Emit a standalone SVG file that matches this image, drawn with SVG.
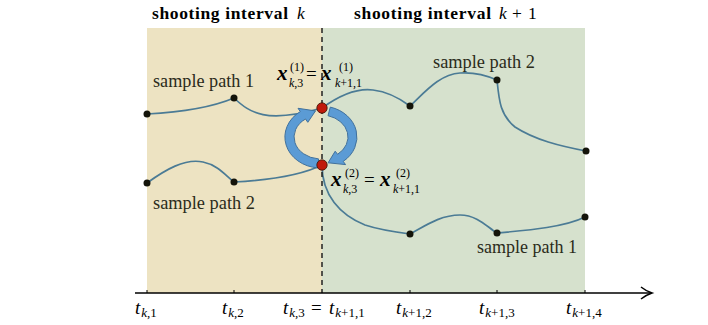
<svg xmlns="http://www.w3.org/2000/svg" width="708" height="325" viewBox="0 0 708 325">
<style>
.bg1{fill:#ede3c2}
.bg2{fill:#d6e1cd}
.path{fill:none;stroke:#4b7b95;stroke-width:1.7}
.dot{fill:#14140a}
.red{fill:#c0190c;stroke:#3a1505;stroke-width:0.8}
.arr{fill:#5b9bd5;stroke:#41719c;stroke-width:1}
text{font-family:"Liberation Serif","Times New Roman","DejaVu Serif",serif}
.hd{font-weight:bold;font-size:17.5px;fill:#000}
.lbl{font-size:18px;fill:#2b2b1a}
.m{font-size:19px;fill:#000}
.mx{font-size:21px;font-weight:bold;font-style:italic;fill:#000}
.s{font-size:13px;font-style:normal;font-weight:normal}
.ss{font-size:12px;font-style:normal;font-weight:normal}
.i{font-style:italic}
</style>
<g id="background">
<rect class="bg1" x="147" y="28" width="175" height="265"/>
<rect class="bg2" x="322" y="28" width="263" height="265"/>
</g>
<g id="headers">
<text class="hd" x="152" y="19"><tspan textLength="136" lengthAdjust="spacing">shooting interval</tspan><tspan class="i" font-weight="normal" x="297">k</tspan></text>
<text class="hd" x="354" y="19"><tspan textLength="137" lengthAdjust="spacing">shooting interval</tspan><tspan class="i" font-weight="normal" x="499">k</tspan><tspan font-weight="normal" x="512">+</tspan><tspan font-weight="normal" x="528">1</tspan></text>
</g>
<g id="connectors">
<path class="path" d="M147,114 C185,112 215,106 234,98"/>
<path class="path" d="M234,98 C250,113 266,124 322,108"/>
<path class="path" d="M147,183 C165,170 185,158 203,162 C218,165 226,176 234,182"/>
<path class="path" d="M234,182 C270,180 300,176 322,165"/>
<path class="path" d="M322,108 C340,95 358,88 373,90 C390,92 402,100 410,106 C425,92 440,74 460,73 C475,72 488,76 497,80 C499,100 500,115 515,127 C535,140 560,146 586,151"/>
<path class="path" d="M322,165 C322,195 340,215 365,225 C380,230 395,232 410,234 C425,226 440,215 460,215 C478,215 488,228 497,233 C530,230 565,227 585,217"/>
<line x1="322" y1="28" x2="322" y2="293" stroke="#222" stroke-width="1.5" stroke-dasharray="5,4"/>
</g>
<g id="axis">
<line x1="135" y1="293" x2="651" y2="293" stroke="#000" stroke-width="1.5"/>
<path d="M641,287 Q646,291 652,293 Q646,295 641,299" fill="none" stroke="#000" stroke-width="1.5"/>
<g stroke="#000" stroke-width="1">
<line x1="147" y1="290" x2="147" y2="293"/>
<line x1="234" y1="290" x2="234" y2="293"/>
<line x1="410" y1="290" x2="410" y2="293"/>
<line x1="497" y1="290" x2="497" y2="293"/>
<line x1="585" y1="290" x2="585" y2="293"/>
</g>
</g>
<g id="tick-labels">
<text class="m" x="135" y="314"><tspan class="i">t</tspan><tspan class="s" dy="3" dx="1"><tspan class="i">k</tspan>,1</tspan></text>
<text class="m" x="222" y="314"><tspan class="i">t</tspan><tspan class="s" dy="3" dx="1"><tspan class="i">k</tspan>,2</tspan></text>
<text class="m" x="283" y="314"><tspan class="i">t</tspan><tspan class="s" dy="3" dx="1"><tspan class="i">k</tspan>,3</tspan><tspan dy="-3" x="311">=</tspan><tspan class="i" x="329">t</tspan><tspan class="s" dy="3" dx="1"><tspan class="i">k</tspan>+1,1</tspan></text>
<text class="m" x="396" y="314"><tspan class="i">t</tspan><tspan class="s" dy="3" dx="1"><tspan class="i">k</tspan>+1,2</tspan></text>
<text class="m" x="479" y="314"><tspan class="i">t</tspan><tspan class="s" dy="3" dx="1"><tspan class="i">k</tspan>+1,3</tspan></text>
<text class="m" x="566" y="314"><tspan class="i">t</tspan><tspan class="s" dy="3" dx="1"><tspan class="i">k</tspan>+1,4</tspan></text>
</g>
<g id="path-labels">
<text class="lbl" x="153" y="87" textLength="101" lengthAdjust="spacingAndGlyphs">sample path 1</text>
<text class="lbl" x="153" y="209" textLength="102" lengthAdjust="spacingAndGlyphs">sample path 2</text>
<text class="lbl" x="433" y="68" textLength="102" lengthAdjust="spacingAndGlyphs">sample path 2</text>
<text class="lbl" x="477" y="253" textLength="100" lengthAdjust="spacingAndGlyphs">sample path 1</text>
</g>
<g id="arrows">
<path class="arr" d="M318.6,158.9 L317.9,167.9 A36,31 0 0 1 300.3,111.6 L298,108.3 L315.5,110.9 L307.8,122.3 L305.5,119 A27,22 0 0 0 318.6,158.9 Z"/>
<path class="arr" d="M328,115.7 L330.3,107.1 A36,31 0 0 1 343.2,161.4 L345.6,164.6 L328.1,162.8 L335.2,151.2 L337.6,154.3 A27,22 0 0 0 328,115.7 Z"/>
</g>
<g id="nodes">
<circle class="dot" cx="147" cy="114" r="3.5"/>
<circle class="dot" cx="234" cy="98" r="3.5"/>
<circle class="dot" cx="147" cy="183" r="3.5"/>
<circle class="dot" cx="234" cy="182" r="3.5"/>
<circle class="dot" cx="410" cy="106" r="3.5"/>
<circle class="dot" cx="497" cy="80" r="3.5"/>
<circle class="dot" cx="586" cy="151" r="3.5"/>
<circle class="dot" cx="410" cy="234" r="3.5"/>
<circle class="dot" cx="497" cy="233" r="3.5"/>
<circle class="dot" cx="585" cy="217" r="3.5"/>
<circle class="red" cx="322" cy="108" r="5.2"/>
<circle class="red" cx="322" cy="165" r="5.2"/>
</g>
<g id="math-labels">
<text class="mx" x="277" y="80">x<tspan class="ss" x="290" y="71">(1)</tspan><tspan class="ss i" x="289" y="87">k</tspan><tspan class="ss" y="87">,3</tspan><tspan class="m" font-weight="normal" font-style="normal" x="306" y="80">=</tspan><tspan x="321" y="80">x</tspan><tspan class="ss" x="339" y="71">(1)</tspan><tspan class="ss i" x="335" y="87">k</tspan><tspan class="ss" y="87">+1,1</tspan></text>
<text class="mx" x="331" y="186">x<tspan class="ss" x="345" y="177">(2)</tspan><tspan class="ss i" x="343" y="193">k</tspan><tspan class="ss" y="193">,3</tspan><tspan class="m" font-weight="normal" font-style="normal" x="364" y="186">=</tspan><tspan x="380" y="186">x</tspan><tspan class="ss" x="396" y="177">(2)</tspan><tspan class="ss i" x="393" y="193">k</tspan><tspan class="ss" y="193">+1,1</tspan></text>
</g>
</svg>
